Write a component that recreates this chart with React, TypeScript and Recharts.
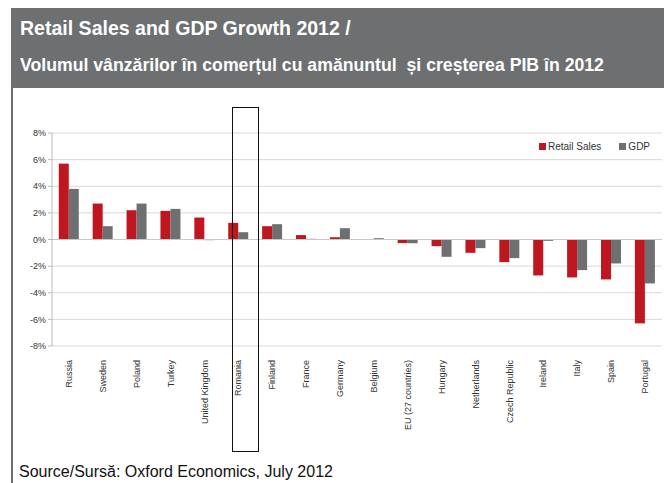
import { Bar, BarChart, CartesianGrid, ReferenceLine, XAxis, YAxis } from "recharts";

const countries = [
  "Russia",
  "Sweden",
  "Poland",
  "Turkey",
  "United Kingdom",
  "Romania",
  "Finland",
  "France",
  "Germany",
  "Belgium",
  "EU (27 countries)",
  "Hungary",
  "Netherlands",
  "Czech Republic",
  "Ireland",
  "Italy",
  "Spain",
  "Portugal",
];
const retailSales = [5.7, 2.7, 2.2, 2.15, 1.65, 1.25, 1.0, 0.33, 0.17, 0.0, -0.27, -0.5, -1.0, -1.7, -2.7, -2.85, -3.0, -6.3];
const gdp = [3.8, 1.0, 2.7, 2.3, -0.05, 0.55, 1.15, 0.05, 0.85, 0.1, -0.28, -1.3, -0.65, -1.4, -0.1, -2.3, -1.8, -3.3];
const yTicks = [-8, -6, -4, -2, 0, 2, 4, 6, 8];
const seriesNames = ["Retail Sales", "GDP"];

const data = countries.map((name, i) => ({ name, retail: retailSales[i], gdp: gdp[i] }));

const RED = "#c0161f";
const GREY = "#6d6f71";
const axisFont = "'Liberation Sans', Arial, sans-serif";

const CountryTick = (props) => {
  const { x, y, payload } = props;
  return (
    <text
      x={0}
      y={0}
      transform={`translate(${x + 3},${y + 6}) rotate(-90)`}
      textAnchor="end"
      fontSize={9}
      fontFamily={axisFont}
      fill="#333"
    >
      {payload.value}
    </text>
  );
};

const titleLine = {
  position: "absolute",
  left: 9,
  whiteSpace: "pre",
  transform: "scaleX(0.93)",
  transformOrigin: "left top",
  lineHeight: "normal",
} as const;

export default function App() {
  return (
    <div style={{ position: "absolute", left: 0, top: 0, width: 664, height: 483, background: "#fff", overflow: "hidden" }}>
      <div
        style={{
          position: "absolute",
          left: 11,
          top: 8,
          width: 653,
          height: 80,
          background: GREY,
          color: "#fff",
          fontFamily: axisFont,
          fontWeight: "bold",
        }}
      >
        <div style={{ ...titleLine, top: 8, fontSize: 21 }}>Retail Sales and GDP Growth 2012 /</div>
        <div style={{ ...titleLine, top: 46, fontSize: 19 }}>
          Volumul vânzărilor în comerțul cu amănuntul  și creșterea PIB în 2012
        </div>
      </div>
      <div style={{ position: "absolute", left: 11, top: 88, width: 2, height: 395, background: GREY }} />

      <div style={{ position: "absolute", left: 0, top: 100 }}>
        <BarChart
          width={664}
          height={380}
          data={data}
          margin={{ top: 33, right: 2, bottom: 0, left: 0 }}
          barCategoryGap="20%"
          barGap={0}
        >
          <CartesianGrid vertical={false} stroke="#d9d9d9" />
          <XAxis dataKey="name" interval={0} height={134} axisLine={false} tickLine={false} tick={<CountryTick />} />
          <YAxis
            width={52}
            domain={[-8, 8]}
            ticks={yTicks}
            tickFormatter={(v) => `${v}%`}
            tick={{ fontSize: 9, fill: "#333", fontFamily: axisFont }}
            axisLine={{ stroke: "#bbb" }}
            tickLine={{ stroke: "#bbb" }}
            tickSize={4}
          />
          <ReferenceLine y={0} stroke="#c8c8c8" />
          <Bar dataKey="retail" name={seriesNames[0]} fill={RED} isAnimationActive={false} />
          <Bar dataKey="gdp" name={seriesNames[1]} fill={GREY} isAnimationActive={false} />
        </BarChart>
      </div>

      <div
        style={{
          position: "absolute",
          left: 539,
          top: 141,
          display: "flex",
          alignItems: "center",
          fontFamily: axisFont,
          fontSize: 10,
          color: "#333",
          whiteSpace: "pre",
        }}
      >
        <span style={{ width: 7, height: 7, background: RED, marginRight: 2 }} />
        <span>{seriesNames[0]}</span>
        <span style={{ width: 7, height: 7, background: GREY, marginLeft: 18, marginRight: 2 }} />
        <span>{seriesNames[1]}</span>
      </div>

      <div style={{ position: "absolute", left: 232, top: 107, width: 25, height: 343, border: "1.5px solid #111" }} />

      <div
        style={{
          position: "absolute",
          left: 19,
          top: 463,
          fontFamily: axisFont,
          fontSize: 16,
          lineHeight: "normal",
          color: "#111",
          whiteSpace: "pre",
        }}
      >
        Source/Sursă: Oxford Economics, July 2012
      </div>
    </div>
  );
}
